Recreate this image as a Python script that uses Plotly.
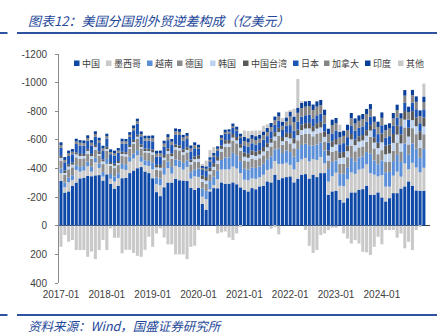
import plotly.graph_objects as go
import pandas as pd

months = [d.strftime("%Y-%m") for d in pd.date_range("2017-01-01", "2024-12-01", freq="MS")]
year_ticks = ["2017-01", "2018-01", "2019-01", "2020-01", "2021-01", "2022-01", "2023-01", "2024-01"]
y_tickvals = [-1200, -1000, -800, -600, -400, -200, 0, 200, 400]
y_ticktext = ["-1200", "-1000", "-800", "-600", "-400", "-200", "0", "200", "400"]

china = [-313, -232, -240, -278, -302, -331, -336, -349, -346, -352, -354, -316,
         -359, -293, -259, -280, -332, -335, -368, -386, -402, -410, -379, -368,
         -332, -235, -207, -269, -302, -302, -328, -318, -316, -313, -264, -250,
         -266, -154, -112, -240, -263, -262, -303, -294, -294, -303, -290, -268,
         -250, -240, -263, -255, -275, -280, -310, -303, -357, -322, -333, -340,
         -345, -303, -329, -357, -361, -330, -357, -340, -368, -368, -215, -240,
         -245, -182, -163, -193, -233, -233, -252, -256, -280, -217, -217, -233,
         -198, -170, -193, -228, -228, -260, -275, -310, -280, -247, -245, -245]
mexico = [-54, -37, -64, -42, -88, -47, -49, -66, -32, -91, -50, -27,
          -73, -35, -50, -52, -65, -55, -80, -84, -90, -38, -44, -50,
          -62, -57, -76, -88, -101, -62, -90, -91, -76, -98, -65, -96,
          -75, -49, -73, -14, -22, -63, -90, -100, -100, -110, -110, -100,
          -72, -78, -68, -73, -63, -76, -80, -95, -95, -110, -99, -100,
          -80, -90, -116, -107, -113, -120, -108, -120, -113, -68, -93, -106,
          -126, -97, -114, -131, -140, -130, -140, -143, -149, -150, -140, -112,
          -156, -103, -80, -122, -150, -83, -160, -84, -160, -160, -128, -160]
vietnam = [-33, -32, -34, -33, -33, -34, -32, -33, -34, -33, -32, -33,
           -35, -34, -36, -35, -35, -36, -34, -35, -36, -35, -34, -35,
           -46, -45, -47, -46, -46, -47, -45, -46, -47, -46, -45, -46,
           -58, -57, -59, -58, -58, -59, -67, -84, -84, -96, -93, -83,
           -76, -75, -77, -76, -76, -77, -75, -87, -81, -107, -76, -86,
           -90, -89, -91, -100, -100, -112, -95, -107, -100, -90, -89, -100,
           -85, -84, -86, -85, -102, -86, -85, -85, -86, -136, -99, -85,
           -102, -101, -103, -102, -117, -103, -141, -102, -136, -131, -101, -132]
germany = [-55, -54, -56, -55, -55, -56, -54, -55, -56, -55, -54, -55,
           -57, -56, -58, -57, -57, -58, -56, -67, -78, -57, -56, -57,
           -56, -55, -57, -56, -56, -57, -70, -71, -57, -56, -55, -56,
           -48, -47, -49, -48, -48, -49, -57, -74, -74, -86, -83, -73,
           -58, -57, -59, -58, -58, -59, -58, -69, -63, -89, -58, -67,
           -60, -59, -61, -70, -70, -82, -65, -77, -70, -60, -59, -70,
           -70, -69, -71, -70, -86, -71, -70, -70, -71, -120, -84, -70,
           -72, -71, -73, -72, -87, -73, -111, -72, -106, -102, -71, -102]
korea = [-19, -18, -20, -19, -21, -19, -18, -20, -19, -20, -18, -19,
         -15, -14, -16, -15, -15, -16, -14, -15, -16, -15, -14, -15,
         -17, -16, -18, -17, -17, -18, -16, -17, -18, -17, -16, -17,
         -21, -20, -22, -21, -21, -22, -20, -21, -22, -21, -20, -21,
         -26, -25, -27, -26, -26, -27, -25, -26, -27, -26, -25, -26,
         -35, -34, -36, -35, -35, -36, -34, -35, -36, -35, -34, -35,
         -42, -41, -43, -42, -42, -43, -41, -42, -43, -42, -41, -42,
         -55, -54, -56, -55, -55, -56, -54, -55, -56, -55, -54, -55]
taiwan = [-14, -13, -15, -14, -14, -15, -13, -14, -15, -14, -13, -14,
          -13, -12, -14, -13, -13, -14, -12, -13, -14, -13, -12, -13,
          -19, -18, -20, -19, -19, -20, -18, -19, -20, -19, -18, -19,
          -25, -24, -26, -25, -25, -26, -24, -25, -26, -25, -24, -25,
          -30, -29, -31, -30, -30, -31, -29, -30, -31, -30, -29, -30,
          -38, -37, -39, -38, -38, -39, -37, -38, -39, -38, -37, -38,
          -38, -37, -39, -38, -38, -39, -37, -38, -39, -38, -37, -38,
          -62, -61, -63, -62, -62, -63, -61, -62, -63, -62, -61, -62]
japan = [-58, -57, -59, -58, -58, -59, -57, -58, -59, -58, -57, -58,
         -57, -56, -58, -57, -57, -58, -56, -67, -78, -57, -56, -57,
         -57, -56, -58, -57, -57, -58, -71, -72, -59, -57, -56, -57,
         -45, -44, -46, -45, -45, -46, -44, -45, -46, -45, -44, -45,
         -50, -49, -51, -50, -50, -51, -49, -50, -51, -50, -49, -50,
         -55, -54, -56, -55, -55, -56, -54, -55, -56, -55, -54, -55,
         -60, -59, -61, -60, -60, -61, -59, -60, -61, -60, -59, -60,
         -57, -56, -58, -57, -57, -58, -56, -57, -58, -57, -56, -57]
canada = [-18, -17, -19, -18, -18, -19, -17, -18, -19, -18, -17, -18,
          -16, -15, -17, -16, -16, -17, -15, -16, -17, -16, -15, -16,
          -22, -21, -23, -22, -22, -23, -21, -22, -23, -22, -21, -22,
          -10, -9, -11, -10, -10, -11, -9, -10, -11, -10, -9, -10,
          -30, -29, -31, -30, -30, -31, -29, -30, -31, -30, -29, -30,
          -60, -59, -61, -60, -60, -61, -59, -60, -61, -60, -59, -60,
          -50, -49, -51, -50, -50, -51, -49, -50, -51, -50, -49, -50,
          -52, -51, -53, -52, -52, -53, -51, -52, -53, -52, -51, -52]
india = [-19, -20, -18, -19, -19, -18, -20, -19, -18, -19, -20, -19,
         -18, -19, -17, -18, -18, -17, -19, -18, -17, -18, -19, -18,
         -20, -21, -19, -20, -20, -19, -21, -20, -19, -20, -21, -20,
         -18, -19, -17, -18, -18, -17, -19, -18, -17, -18, -19, -18,
         -28, -29, -27, -28, -28, -27, -29, -28, -27, -28, -29, -28,
         -37, -38, -36, -37, -37, -36, -38, -37, -36, -37, -38, -37,
         -37, -38, -36, -37, -37, -36, -38, -37, -36, -37, -38, -37,
         -38, -39, -37, -38, -38, -37, -39, -38, -37, -38, -39, -38]
others = [147, 65, 112, 100, 170, 170, 170, 217, 180, 233, 170, 100,
          170, 19, 84, 84, 193, 168, 168, 190, 210, 217, 168, 77,
          147, 54, 19, 82, 130, 130, 200, 200, 200, 233, 147, 140,
          30, -10, -40, -50, -40, 54, 47, 40, 82, 100, 54, 5,
          -46, -50, -30, -40, -30, -40, -25, 20, 10, 60, -25, -40,
          -4, -55, -200, -10, 30, 140, 190, 170, 65, 54, 30, 14,
          14, -50, 54, 90, 124, 100, 124, 182, 186, 205, 147, 77,
          130, 30, 30, 30, 84, 54, 158, 112, 170, 30, 5, -90]

series = [
    ("中国", china, "#0f49a8"),
    ("墨西哥", mexico, "#c9c9c9"),
    ("越南", vietnam, "#5b8fd8"),
    ("德国", germany, "#8c8c8c"),
    ("韩国", korea, "#bcd2ef"),
    ("中国台湾", taiwan, "#595959"),
    ("日本", japan, "#1c55b6"),
    ("加拿大", canada, "#858585"),
    ("印度", india, "#0a3f98"),
    ("其他", others, "#c9c9c9"),
]

# legend positions in pixels (marker left, text left)
legend_px = [(74, 80), (106, 112), (147, 153), (177, 183), (210, 216),
             (243, 249), (293, 299), (324, 330), (365, 371), (398, 404)]

W, H = 446, 336
ML, MR, MT, MB = 59, 16, 54, 53
PW, PH = W - ML - MR, H - MT - MB


def px_x(px):
    return (px - ML) / PW


def px_y(py):
    return (H - MB - py) / PH


fig = go.Figure()
for name, vals, color in series:
    fig.add_trace(go.Bar(x=months, y=vals, name=name, marker_color=color,
                         marker_line_width=0, showlegend=False))

cjk = "Noto Sans CJK SC"
shapes = []
annotations = []
for (name, vals, color), (mx, tx) in zip(series, legend_px):
    shapes.append(dict(type="rect", xref="paper", yref="paper",
                       x0=px_x(mx), x1=px_x(mx + 5.5), y0=px_y(66), y1=px_y(60.5),
                       fillcolor=color, line_width=0))
    annotations.append(dict(text=name, xref="paper", yref="paper", x=px_x(tx), y=px_y(63.5),
                            xanchor="left", yanchor="middle", showarrow=False,
                            font=dict(family=cjk, size=9, color="#404040")))

blue = "#2c52a0"
for py in (33, 315):
    shapes.append(dict(type="line", xref="paper", yref="paper", x0=px_x(0), x1=px_x(7.5),
                       y0=px_y(py), y1=px_y(py), line=dict(color=blue, width=2)))
    shapes.append(dict(type="line", xref="paper", yref="paper", x0=px_x(17), x1=px_x(437),
                       y0=px_y(py), y1=px_y(py), line=dict(color=blue, width=2)))

annotations.append(dict(text="<i>图表12：美国分国别外贸逆差构成（亿美元）</i>", xref="paper", yref="paper",
                        x=px_x(26), y=px_y(20), xanchor="left", yanchor="middle", showarrow=False,
                        font=dict(family=cjk, size=13, color="#24479a")))
annotations.append(dict(text="<i>资料来源：Wind，国盛证券研究所</i>", xref="paper", yref="paper",
                        x=px_x(26), y=px_y(325), xanchor="left", yanchor="middle", showarrow=False,
                        font=dict(family=cjk, size=12.5, color="#24479a")))

fig.update_layout(
    width=W, height=H,
    margin=dict(l=ML, r=MR, t=MT, b=MB),
    paper_bgcolor="white", plot_bgcolor="white",
    barmode="relative", bargap=0.2,
    shapes=shapes, annotations=annotations,
    font=dict(family="Liberation Sans, Arial", size=10, color="#404040"),
)
fig.update_xaxes(type="category", range=[-0.52, 96.6], tickvals=year_ticks, ticktext=year_ticks,
                 showgrid=False, showline=False, ticks="", tickfont=dict(size=10, color="#404040"),
                 ticklabelstandoff=4)
fig.update_yaxes(range=[400, -1200], tickvals=y_tickvals, ticktext=y_ticktext,
                 showgrid=False, showline=True, linecolor="#8a8a8a", linewidth=1,
                 ticks="outside", ticklen=3, tickcolor="#8a8a8a",
                 zeroline=True, zerolinecolor="#404040", zerolinewidth=1,
                 tickfont=dict(size=10, color="#404040"), ticklabelstandoff=6)

fig.write_html("out.html")
